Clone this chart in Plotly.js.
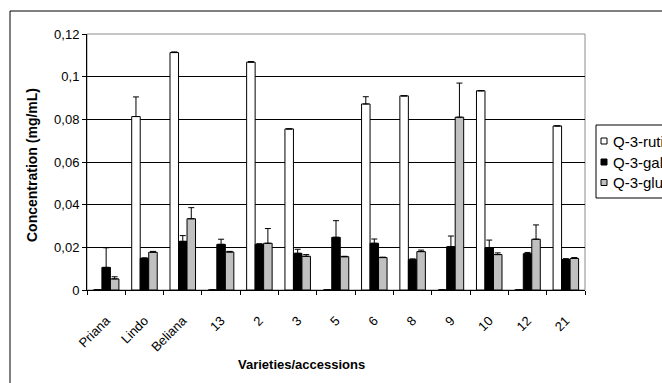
<!DOCTYPE html>
<html><head><meta charset="utf-8">
<script src="https://cdn.plot.ly/plotly-3.0.1.min.js"></script>
<style>html,body{margin:0;padding:0;background:#fff;overflow:hidden}#chart{width:662px;height:383px}</style>
</head><body><div id="chart"></div>
<script>
const categories = ["Priana","Lindo","Beliana","13","2","3","5","6","8","9","10","12","21"];
const seriesNames = ["Q-3-rutinoside","Q-3-galactoside","Q-3-glucoside"];
const rutin    = [0, 0.0813, 0.1113, 0, 0.1068, 0.0755, 0, 0.0872, 0.0910, 0, 0.0934, 0, 0.0769];
const rutinErr = [0, 0.0092, 0.0003, 0, 0.0003, 0, 0, 0.0034, 0, 0, 0, 0, 0];
const gal      = [0.0106, 0.0148, 0.0228, 0.0214, 0.0214, 0.0172, 0.0247, 0.0219, 0.0142, 0.0203, 0.0198, 0.0170, 0.0143];
const galErr   = [0.0092, 0.0003, 0.0027, 0.0024, 0.0003, 0.0019, 0.0078, 0.0020, 0.0004, 0.0050, 0.0036, 0.0006, 0.0004];
const glu      = [0.0052, 0.0177, 0.0334, 0.0178, 0.0219, 0.0158, 0.0156, 0.0152, 0.0180, 0.0810, 0.0166, 0.0238, 0.0148];
const gluErr   = [0.0010, 0.0004, 0.0052, 0.0003, 0.0069, 0.0008, 0.0002, 0.0002, 0.0007, 0.0160, 0.0008, 0.0067, 0.0004];
const fills = ["#ffffff", "#000000", "#c0c0c0"];

const FONT = "Arial, 'Liberation Sans', sans-serif";
const vals = [rutin, gal, glu], errs = [rutinErr, galErr, gluErr];
const traces = vals.map((v, i) => ({
  type: "bar", x: categories, y: v, name: seriesNames[i],
  marker: {color: fills[i], line: {color: "#000", width: 1}},
  error_y: {type: "data", symmetric: false, array: errs[i], arrayminus: v.map(() => 0),
            color: "#000", thickness: 1, width: 3},
  showlegend: false, hoverinfo: "skip"
}));

// plot area in px
const W = 662, H = 383, L = 87, R = 585, T = 34, B = 290;
const pw = R - L, ph = B - T;
const px = x => (x - L) / pw, py = y => (B - y) / ph;

const shapes = [
  {type: "rect", xref: "paper", yref: "paper", x0: px(10), x1: px(700), y0: py(420), y1: py(11),
   line: {color: "#000", width: 1}, layer: "below"},
  {type: "rect", xref: "paper", yref: "paper", x0: 0, x1: 1, y0: 0, y1: 1,
   line: {color: "#8c8c8c", width: 1}, layer: "below"},
  {type: "rect", xref: "paper", yref: "paper", x0: px(596), x1: px(720), y0: py(198), y1: py(125),
   line: {color: "#000", width: 1}, fillcolor: "#fff"}
];
const annotations = [
  {xref: "paper", yref: "paper", x: px(301), y: py(364), text: "<b>Varieties/accessions</b>",
   showarrow: false, font: {family: FONT, size: 13, color: "#000"}, xanchor: "center", yanchor: "middle"},
  {xref: "paper", yref: "paper", x: px(32), y: py(165), text: "<b>Concentration (mg/mL)</b>", textangle: -90,
   showarrow: false, font: {family: FONT, size: 14, color: "#000"}, xanchor: "center", yanchor: "middle"}
];
const rowY = [141, 162, 182.5];
seriesNames.forEach((n, i) => {
  shapes.push({type: "rect", xref: "paper", yref: "paper", x0: px(601), x1: px(607), y0: py(rowY[i] + 3), y1: py(rowY[i] - 3),
    line: {color: "#000", width: 1}, fillcolor: fills[i]});
  annotations.push({xref: "paper", yref: "paper", x: px(611), y: py(rowY[i]), text: n, showarrow: false,
    xanchor: "left", yanchor: "middle", font: {family: FONT, size: 15, color: "#000"}});
});

const layout = {
  width: W, height: H, separators: ", ",
  margin: {l: L, r: W - R, t: T, b: H - B, pad: 0},
  paper_bgcolor: "#fff", plot_bgcolor: "#fff",
  barmode: "group", bargap: 0.334, bargroupgap: 0,
  font: {family: FONT, size: 13, color: "#000"},
  showlegend: false,
  xaxis: {type: "category", tickangle: -45, ticks: "outside", tickson: "boundaries", ticklen: 4,
          tickcolor: "#000", showline: true, linecolor: "#000", linewidth: 1, showgrid: false,
          ticklabelstandoff: 17,
          tickfont: {family: FONT, size: 13, color: "#000"}, fixedrange: true},
  yaxis: {range: [0, 0.12], dtick: 0.02, tick0: 0, ticks: "outside", ticklen: 4, tickcolor: "#000",
          showline: true, linecolor: "#000", linewidth: 1, showgrid: true, gridcolor: "#000", gridwidth: 1,
          zeroline: false, tickfont: {family: FONT, size: 13, color: "#000"}, fixedrange: true},
  shapes: shapes, annotations: annotations
};
Plotly.newPlot("chart", traces, layout, {staticPlot: true});
</script></body></html>
